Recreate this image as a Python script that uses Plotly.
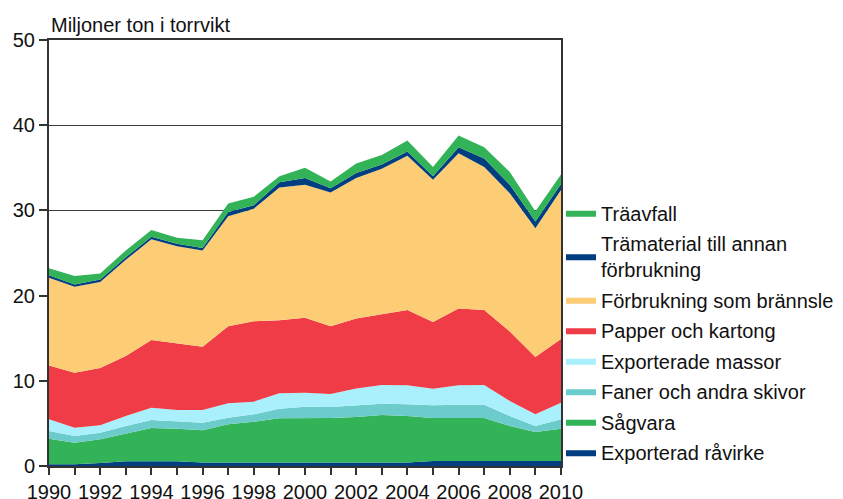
import plotly.graph_objects as go

years = list(range(1990, 2011))

# cumulative tops, converted to layer values below
cum_ravirke = [0.2,0.2,0.35,0.55,0.55,0.55,0.4,0.4,0.4,0.4,0.4,0.4,0.4,0.4,0.4,0.6,0.6,0.6,0.6,0.6,0.6]
cum_sagvara = [3.2,2.74,3.13,3.83,4.46,4.38,4.19,4.89,5.2,5.6,5.63,5.63,5.75,6.0,5.87,5.63,5.63,5.63,4.7,4.0,4.38]
cum_faner = [4.1,3.52,3.9,4.7,5.4,5.28,5.08,5.67,6.06,6.73,6.96,6.92,7.12,7.3,7.24,7.12,7.2,7.2,5.87,4.7,5.48]
cum_massor = [5.48,4.5,4.77,5.87,6.85,6.57,6.57,7.36,7.55,8.53,8.6,8.45,9.1,9.5,9.47,9.08,9.47,9.5,7.63,6.06,7.43]
cum_papper = [11.8,10.95,11.5,12.9,14.8,14.4,14.0,16.4,17.0,17.1,17.4,16.4,17.3,17.8,18.3,16.9,18.5,18.3,15.8,12.8,14.9]
cum_bransle = [22.1,21.05,21.6,24.2,26.6,25.8,25.3,29.3,30.2,32.7,33.0,32.1,33.8,34.9,36.4,33.6,36.7,35.1,32.0,27.9,32.4]
cum_tramaterial = [22.4,21.3,21.9,24.5,26.9,26.1,25.6,29.8,30.6,33.3,33.8,32.6,34.4,35.4,36.9,34.0,37.4,36.1,33.0,28.7,33.1]
cum_traavfall = [23.2,22.3,22.6,25.3,27.7,26.8,26.5,30.8,31.6,34.0,35.0,33.4,35.5,36.5,38.2,35.1,38.8,37.4,34.5,29.9,34.2]

def diff(top, bottom):
    return [round(t - b, 3) for t, b in zip(top, bottom)]

exporterad_ravirke = cum_ravirke
sagvara = diff(cum_sagvara, cum_ravirke)
faner = diff(cum_faner, cum_sagvara)
exporterade_massor = diff(cum_massor, cum_faner)
papper = diff(cum_papper, cum_massor)
bransle = diff(cum_bransle, cum_papper)
tramaterial = diff(cum_tramaterial, cum_bransle)
traavfall = diff(cum_traavfall, cum_tramaterial)

series = [
    ("Exporterad råvirke", exporterad_ravirke, "#003E80"),
    ("Sågvara", sagvara, "#33B357"),
    ("Faner och andra skivor", faner, "#6CCBCB"),
    ("Exporterade massor", exporterade_massor, "#AAF0FC"),
    ("Papper och kartong", papper, "#EF3C46"),
    ("Förbrukning som brännsle", bransle, "#FDCD76"),
    ("Trämaterial till annan<br>förbrukning", tramaterial, "#003E80"),
    ("Träavfall", traavfall, "#33B357"),
]

tick_vals = years
tick_text = [str(y) if y % 2 == 0 else "" for y in years]
y_ticks = [0, 10, 20, 30, 40, 50]

fig = go.Figure()
n = len(series)
for i, (name, vals, col) in enumerate(series):
    fig.add_trace(go.Scatter(
        x=years, y=vals, name=name, mode="lines",
        stackgroup="one", line=dict(width=0, color=col),
        fillcolor=col, legendgroup="g%d" % i, legendrank=(n - i) * 10,
    ))

font = "Liberation Sans, Arial, sans-serif"
fig.update_layout(
    width=843, height=491,
    margin=dict(l=41, r=288, t=32, b=33),
    paper_bgcolor="white", plot_bgcolor="white",
    font=dict(family=font, size=20, color="#111111"),
    showlegend=True,
    legend=dict(
        traceorder="grouped", tracegroupgap=1.5,
        x=1.0, xanchor="left", y=0.64, yanchor="top",
        font=dict(size=20, color="#111111"), bgcolor="rgba(0,0,0,0)",
        itemwidth=30,
    ),
    xaxis=dict(
        range=[1990, 2010], tickvals=tick_vals, ticktext=tick_text,
        showgrid=False, showline=True, linecolor="#333333", linewidth=2,
        mirror=True, ticks="outside", ticklen=7, tickcolor="#333333",
        tickwidth=2, tickfont=dict(size=20), zeroline=False, automargin=False,
    ),
    yaxis=dict(
        range=[0, 50], tickvals=y_ticks, showgrid=True, gridcolor="#3a3a3a",
        gridwidth=1, showline=True, linecolor="#333333", linewidth=2,
        mirror=True, ticks="outside", ticklen=8, tickcolor="#333333",
        tickwidth=2, tickfont=dict(size=20), zeroline=False, automargin=False,
    ),
    annotations=[dict(
        text="Miljoner ton i torrvikt", xref="paper", yref="paper",
        x=0, y=1, xanchor="left", yanchor="bottom", showarrow=False,
        font=dict(size=20, color="#111111"), yshift=2,
    )],
)

fig.write_html("out.html")
